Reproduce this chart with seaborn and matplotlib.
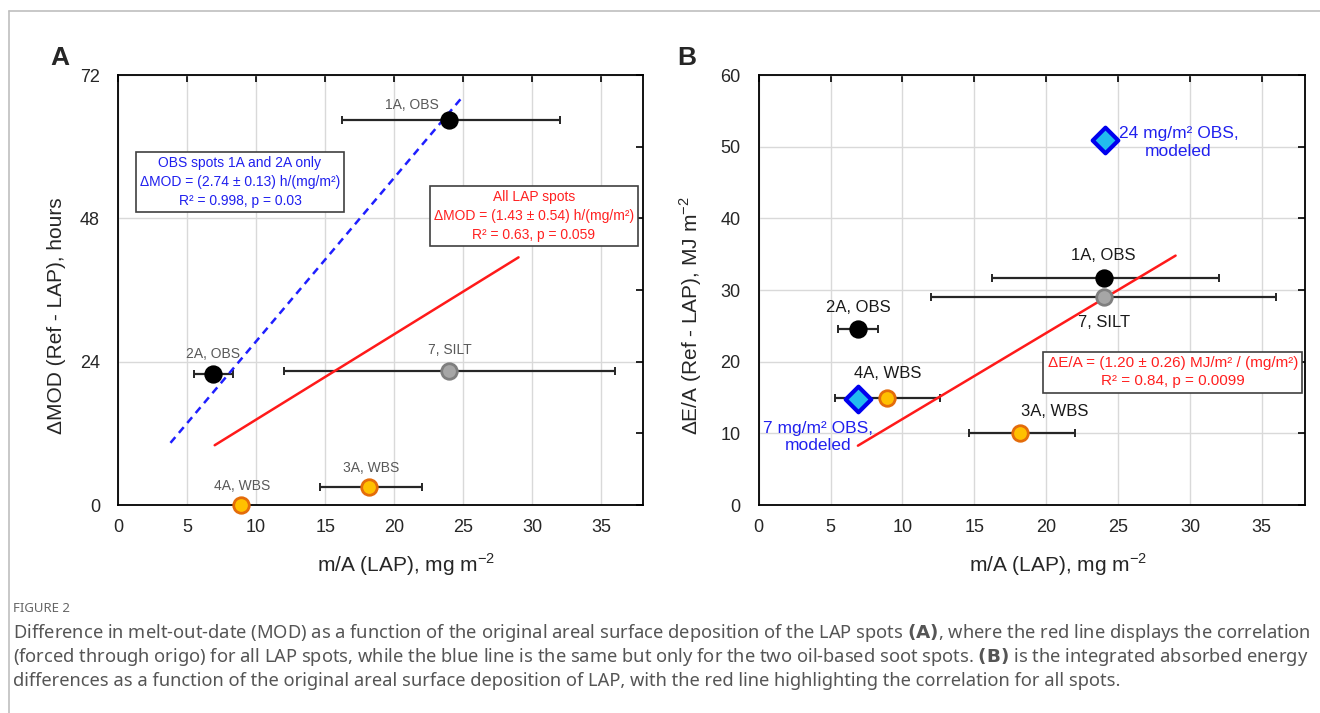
import numpy as np
import pandas as pd
import seaborn as sns
import matplotlib.pyplot as plt
from matplotlib.ticker import MultipleLocator
from matplotlib.lines import Line2D

# ---- data ----
spots = ["1A, OBS", "2A, OBS", "7, SILT", "3A, WBS", "4A, WBS"]
kind = ["OBS", "OBS", "SILT", "WBS", "WBS"]
mass = [24.0, 6.9, 24.0, 18.2, 8.9]          # m/A, mg m-2
mass_lo = [16.2, 5.5, 12.0, 14.6, 8.9]
mass_hi = [32.0, 8.3, 36.0, 22.0, 8.9]
dmod = [64.5, 22.0, 22.5, 3.0, 0.0]           # hours

# panel B has its own error bar for 4A
mass_lo_b = [16.2, 5.5, 12.0, 14.6, 5.3]
mass_hi_b = [32.0, 8.3, 36.0, 22.0, 12.6]
de_a = [31.7, 24.5, 29.0, 10.0, 15.0]          # MJ m-2

modeled_mass = [6.9, 24.1]
modeled_de = [14.8, 51.0]
modeled_lbl = ["7 mg/m² OBS,\nmodeled", "24 mg/m² OBS,\nmodeled"]

slope_obs_a = 2.74
slope_all_a = 1.43
slope_all_b = 1.20
fit_obs_a_x = [3.8, 25.0]
fit_all_a_x = [7.0, 29.0]
fit_all_b_x = [6.9, 29.0]

sns.set_theme(style="white")
plt.rcParams["font.family"] = ["Liberation Sans", "DejaVu Sans"]
plt.rcParams["mathtext.fontset"] = "custom"
plt.rcParams["mathtext.rm"] = "Liberation Sans"

face = {"OBS": "black", "SILT": "#a6a6a6", "WBS": "#ffc000"}
edge = {"OBS": "black", "SILT": "#7f7f7f", "WBS": "#e46c0a"}

fig = plt.figure(figsize=(13.2, 7.13), dpi=100)
axA = fig.add_axes([0.0894, 0.2917, 0.3976, 0.6031])
axB = fig.add_axes([0.5748, 0.2917, 0.4138, 0.6031])

df = pd.DataFrame({"spot": spots, "kind": kind, "mass": mass, "dmod": dmod, "de": de_a})


def style_axis(ax, ymax, ystep, yminor):
    ax.set_xlim(0, 38)
    ax.set_ylim(0, ymax)
    ax.xaxis.set_major_locator(MultipleLocator(5))
    ax.yaxis.set_major_locator(MultipleLocator(ystep))
    if yminor:
        ax.yaxis.set_minor_locator(MultipleLocator(yminor))
    ax.grid(True, which="major", color="#d9d9d9", lw=1.0)
    ax.set_axisbelow(True)
    ax.tick_params(which="both", direction="in", top=True, right=True,
                   length=5, width=1.2, color="black", labelsize=13, pad=10)
    ax.tick_params(axis="y", pad=13)
    for s in ax.spines.values():
        s.set_color("black")
        s.set_linewidth(1.3)
    ax.set_xlabel("m/A (LAP), mg m$^{-2}$", fontsize=15)
    ax.xaxis.set_label_coords(0.548, -0.108)


def draw_points(ax, ycol, lo, hi):
    ax.errorbar(df["mass"], df[ycol],
                xerr=[np.array(df["mass"]) - np.array(lo), np.array(hi) - np.array(df["mass"])],
                fmt="none", ecolor="#262626", elinewidth=1.6, capsize=3, capthick=1.4, zorder=3)
    for k in ["OBS", "SILT", "WBS"]:
        sub = df[df["kind"] == k]
        sns.scatterplot(data=sub, x="mass", y=ycol, ax=ax, s=125, color=face[k],
                        edgecolor=edge[k], linewidth=2, zorder=5, legend=False, clip_on=False)


# ---- panel A ----
style_axis(axA, 72, 24, 12)
axA.set_ylabel("ΔMOD (Ref - LAP), hours", fontsize=15)
axA.yaxis.set_label_coords(-0.1, 0.44)
sns.lineplot(x=fit_obs_a_x, y=[slope_obs_a * v for v in fit_obs_a_x], ax=axA,
             color="#1f1fff", lw=1.8, zorder=4)
axA.lines[-1].set_linestyle((0, (3, 2.2)))
sns.lineplot(x=fit_all_a_x, y=[slope_all_a * v for v in fit_all_a_x], ax=axA,
             color="#ff1a1a", lw=1.8, zorder=4)
draw_points(axA, "dmod", mass_lo, mass_hi)

offA = [(-27, 11), (0, 14), (0, 15), (1, 14), (1, 14)]
for s, x, y, o in zip(spots, mass, dmod, offA):
    axA.annotate(s, (x, y), xytext=o, textcoords="offset points", ha="center",
                 va="center", fontsize=10, color="#595959", zorder=6)

axA.text(8.83, 54.1, "OBS spots 1A and 2A only\nΔMOD = (2.74 ± 0.13) h/(mg/m²)\nR² = 0.998, p = 0.03",
         ha="center", va="center", multialignment="center", fontsize=10, color="#2020ee",
         linespacing=1.45, zorder=6,
         bbox=dict(boxstyle="square,pad=0.3", fc="white", ec="#404040", lw=1.2))
axA.text(30.1, 48.4, "All LAP spots\nΔMOD = (1.43 ± 0.54) h/(mg/m²)\nR² = 0.63, p = 0.059",
         ha="center", va="center", multialignment="center", fontsize=10, color="#ff2020",
         linespacing=1.45, zorder=6,
         bbox=dict(boxstyle="square,pad=0.3", fc="white", ec="#404040", lw=1.2))

# ---- panel B ----
style_axis(axB, 60, 10, None)
axB.set_ylabel("ΔE/A (Ref - LAP), MJ m$^{-2}$", fontsize=15)
axB.yaxis.set_label_coords(-0.1, 0.44)
sns.lineplot(x=fit_all_b_x, y=[slope_all_b * v for v in fit_all_b_x], ax=axB,
             color="#ff1a1a", lw=1.8, zorder=4)
draw_points(axB, "de", mass_lo_b, mass_hi_b)
sns.scatterplot(x=modeled_mass, y=modeled_de, ax=axB, marker="D", s=170, color="#22bbee",
                edgecolor="#0000ee", linewidth=3.0, zorder=6, legend=False)

offB = [(0, 16), (0, 16), (0, -18), (25, 16), (1, 17)]
for s, x, y, o in zip(spots, mass, de_a, offB):
    axB.annotate(s, (x, y), xytext=o, textcoords="offset points", ha="center",
                 va="center", fontsize=12, color="#1a1a1a", zorder=7)

axB.text(4.1, 9.5, modeled_lbl[0], ha="center", va="center", multialignment="center",
         fontsize=12.5, color="#2020ee", linespacing=1.2, zorder=7)
axB.text(29.2, 50.6, modeled_lbl[1], ha="center", va="center", multialignment="center",
         fontsize=12.5, color="#2020ee", linespacing=1.2, zorder=7)
axB.text(28.8, 18.55, "ΔE/A = (1.20 ± 0.26) MJ/m² / (mg/m²)\nR² = 0.84, p = 0.0099",
         ha="center", va="center", multialignment="center", fontsize=11, color="#ff2020",
         linespacing=1.35, zorder=7,
         bbox=dict(boxstyle="square,pad=0.3", fc="white", ec="#404040", lw=1.2))

# panel letters
fig.text(0.038, 0.918, "A", fontsize=19, fontweight="bold", ha="left", va="center")
fig.text(0.513, 0.918, "B", fontsize=19, fontweight="bold", ha="left", va="center")

# page frame lines
fig.add_artist(Line2D([0.007, 1.0], [0.985, 0.985], color="#bfbfbf", lw=1.2))
fig.add_artist(Line2D([0.007, 0.007], [0.0, 0.985], color="#bfbfbf", lw=1.2))

# caption
cap_font = ["Noto Sans", "DejaVu Sans"]
fig.text(0.0095, 0.147, "FIGURE 2", fontsize=9.5, color="#666666", family=cap_font, va="center")
cap_lines = [
    "Difference in melt-out-date (MOD) as a function of the original areal surface deposition of the LAP spots $\\bf{(A)}$, where the red line displays the correlation",
    "(forced through origo) for all LAP spots, while the blue line is the same but only for the two oil-based soot spots. $\\bf{(B)}$ is the integrated absorbed energy",
    "differences as a function of the original areal surface deposition of LAP, with the red line highlighting the correlation for all spots.",
]
for i, line in enumerate(cap_lines):
    fig.text(0.0095, 0.112 - i * 0.0335, line, fontsize=13.2, color="#555555",
             family=cap_font, va="center")

fig.savefig("out.png", dpi=100)
